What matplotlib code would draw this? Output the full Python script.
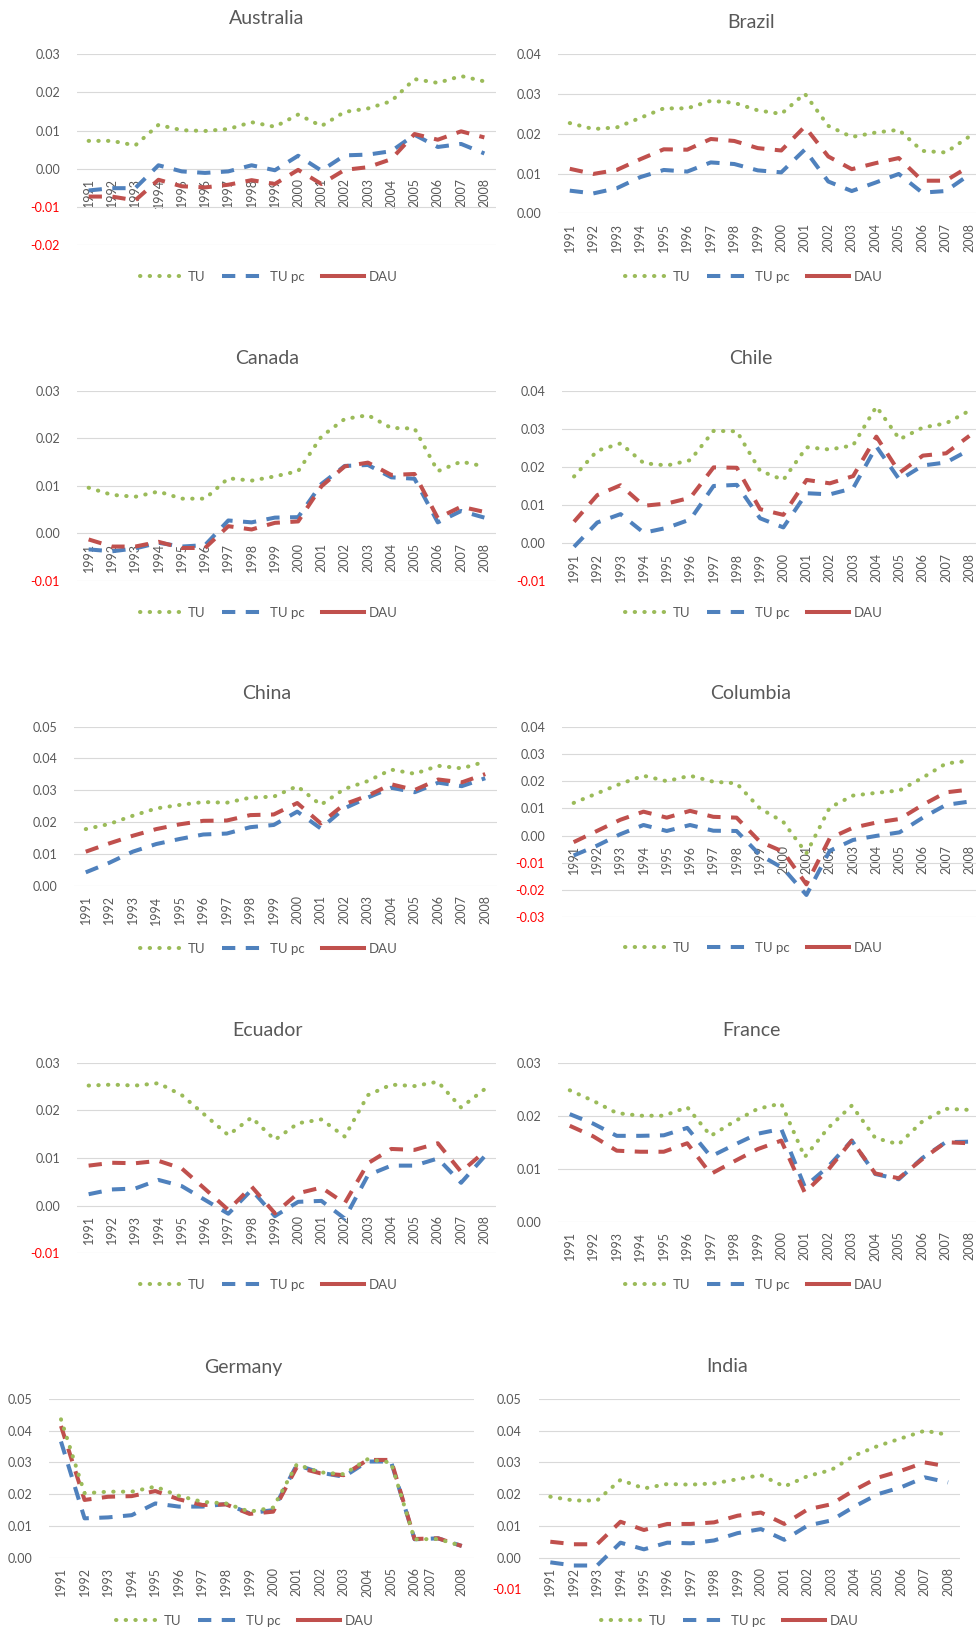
import matplotlib
matplotlib.use("Agg")
import matplotlib.pyplot as plt
from matplotlib.lines import Line2D
from matplotlib.transforms import ScaledTranslation
import numpy as np

plt.rcParams['font.family'] = ['Lato', 'DejaVu Sans']

years = [str(y) for y in range(1991, 2009)]
series_names = ["TU", "TU pc", "DAU"]

# ---------------- data ----------------
au_tu = [0.0073, 0.0073, 0.0061, 0.0115, 0.0101, 0.0099, 0.0104, 0.0122, 0.0110, 0.0142,
         0.0112, 0.0149, 0.0158, 0.0177, 0.0235, 0.0225, 0.0243, 0.0229]
au_tupc = [-0.0057, -0.0051, -0.0051, 0.0009, -0.0007, -0.0011, -0.0007, 0.0009, -0.0004, 0.0034,
           -0.0005, 0.0035, 0.0037, 0.0046, 0.0089, 0.0057, 0.0065, 0.0040]
au_dau = [-0.0073, -0.0073, -0.0083, -0.0029, -0.0046, -0.0049, -0.0042, -0.0030, -0.0040, -0.0003,
          -0.0040, -0.0003, 0.0004, 0.0025, 0.0091, 0.0076, 0.0098, 0.0082]

br_tu = [0.0227, 0.0212, 0.0216, 0.0240, 0.0264, 0.0264, 0.0283, 0.0278, 0.0259, 0.0250,
         0.0301, 0.0220, 0.0192, 0.0203, 0.0210, 0.0157, 0.0153, 0.0193]
br_tupc = [0.0057, 0.0050, 0.0063, 0.0091, 0.0109, 0.0105, 0.0128, 0.0124, 0.0108, 0.0103,
           0.0160, 0.0080, 0.0056, 0.0077, 0.0099, 0.0052, 0.0056, 0.0097]
br_dau = [0.0112, 0.0099, 0.0109, 0.0136, 0.0161, 0.0160, 0.0187, 0.0182, 0.0164, 0.0158,
          0.0218, 0.0143, 0.0111, 0.0126, 0.0139, 0.0082, 0.0082, 0.0118]

ca_tu = [0.0096, 0.0081, 0.0077, 0.0088, 0.0073, 0.0073, 0.0116, 0.0111, 0.0120, 0.0131,
         0.0204, 0.0241, 0.0249, 0.0222, 0.0221, 0.0131, 0.0151, 0.0141]
ca_tupc = [-0.0034, -0.0038, -0.0032, -0.0020, -0.0028, -0.0025, 0.0027, 0.0023, 0.0033, 0.0034,
           0.0104, 0.0142, 0.0144, 0.0118, 0.0115, 0.0023, 0.0047, 0.0033]
ca_dau = [-0.0013, -0.0028, -0.0028, -0.0018, -0.0031, -0.0031, 0.0015, 0.0008, 0.0022, 0.0025,
          0.0099, 0.0141, 0.0149, 0.0123, 0.0125, 0.0032, 0.0056, 0.0045]

cl_tu = [0.0175, 0.0243, 0.0262, 0.0210, 0.0204, 0.0218, 0.0295, 0.0294, 0.0190, 0.0166,
         0.0252, 0.0246, 0.0257, 0.0359, 0.0273, 0.0304, 0.0315, 0.0348]
cl_tupc = [-0.0010, 0.0054, 0.0076, 0.0027, 0.0040, 0.0062, 0.0150, 0.0153, 0.0065, 0.0041,
           0.0131, 0.0128, 0.0144, 0.0254, 0.0166, 0.0204, 0.0212, 0.0245]
cl_dau = [0.0056, 0.0126, 0.0152, 0.0098, 0.0104, 0.0119, 0.0199, 0.0198, 0.0089, 0.0074,
          0.0166, 0.0157, 0.0176, 0.0280, 0.0185, 0.0230, 0.0236, 0.0282]

cn_tu = [0.0178, 0.0194, 0.0220, 0.0243, 0.0254, 0.0263, 0.0261, 0.0277, 0.0280, 0.0313,
         0.0254, 0.0304, 0.0329, 0.0365, 0.0352, 0.0377, 0.0369, 0.0390]
cn_tupc = [0.0042, 0.0072, 0.0107, 0.0131, 0.0147, 0.0161, 0.0164, 0.0184, 0.0191, 0.0233,
           0.0180, 0.0243, 0.0277, 0.0308, 0.0294, 0.0324, 0.0313, 0.0338]
cn_dau = [0.0107, 0.0133, 0.0157, 0.0178, 0.0193, 0.0204, 0.0205, 0.0222, 0.0224, 0.0260,
          0.0196, 0.0256, 0.0283, 0.0319, 0.0301, 0.0334, 0.0325, 0.0351]

co_tu = [0.0120, 0.0155, 0.0190, 0.0220, 0.0200, 0.0220, 0.0198, 0.0192, 0.0100, 0.0051,
         -0.0065, 0.0103, 0.0147, 0.0157, 0.0166, 0.0213, 0.0265, 0.0275]
co_tupc = [-0.0073, -0.0037, 0.0005, 0.0039, 0.0017, 0.0039, 0.0018, 0.0017, -0.0071, -0.0120,
           -0.0218, -0.0056, -0.0016, -0.0001, 0.0012, 0.0066, 0.0113, 0.0125]
co_dau = [-0.0024, 0.0017, 0.0058, 0.0088, 0.0066, 0.0091, 0.0069, 0.0066, -0.0022, -0.0059,
          -0.0179, -0.0010, 0.0029, 0.0048, 0.0061, 0.0113, 0.0159, 0.0169]

ec_tu = [0.0252, 0.0254, 0.0252, 0.0257, 0.0232, 0.0190, 0.0148, 0.0185, 0.0138, 0.0173,
         0.0181, 0.0145, 0.0232, 0.0254, 0.0251, 0.0260, 0.0206, 0.0244]
ec_tupc = [0.0024, 0.0034, 0.0036, 0.0054, 0.0041, 0.0012, -0.0017, 0.0033, -0.0022, 0.0008,
           0.0010, -0.0027, 0.0064, 0.0084, 0.0084, 0.0099, 0.0048, 0.0103]
ec_dau = [0.0084, 0.0090, 0.0089, 0.0094, 0.0078, 0.0035, -0.0009, 0.0040, -0.0016, 0.0026,
          0.0038, 0.0005, 0.0089, 0.0119, 0.0117, 0.0131, 0.0071, 0.0113]

fr_tu = [0.0248, 0.0228, 0.0205, 0.0200, 0.0200, 0.0216, 0.0162, 0.0189, 0.0213, 0.0223,
         0.0122, 0.0177, 0.0219, 0.0158, 0.0146, 0.0189, 0.0213, 0.0211]
fr_tupc = [0.0203, 0.0185, 0.0162, 0.0162, 0.0163, 0.0177, 0.0123, 0.0145, 0.0166, 0.0175,
           0.0066, 0.0104, 0.0153, 0.0090, 0.0080, 0.0120, 0.0150, 0.0151]
fr_dau = [0.0181, 0.0161, 0.0134, 0.0132, 0.0132, 0.0148, 0.0090, 0.0114, 0.0137, 0.0153,
          0.0055, 0.0098, 0.0153, 0.0091, 0.0082, 0.0118, 0.0150, 0.0148]

de_tu = [0.0436, 0.0203, 0.0208, 0.0208, 0.0224, 0.0195, 0.0176, 0.0171, 0.0145, 0.0158,
         0.0294, 0.0269, 0.0263, 0.0310, 0.0300, 0.0058, 0.0059, 0.0037]
de_tupc = [0.0366, 0.0124, 0.0127, 0.0134, 0.0171, 0.0161, 0.0161, 0.0169, 0.0140, 0.0150,
           0.0292, 0.0268, 0.0255, 0.0303, 0.0303, 0.0058, 0.0061, 0.0037]
de_dau = [0.0415, 0.0182, 0.0192, 0.0194, 0.0210, 0.0184, 0.0166, 0.0168, 0.0138, 0.0145,
          0.0285, 0.0266, 0.0260, 0.0308, 0.0308, 0.0059, 0.0061, 0.0037]

in_tu = [0.0192, 0.0180, 0.0180, 0.0245, 0.0218, 0.0232, 0.0230, 0.0234, 0.0247, 0.0260,
         0.0224, 0.0257, 0.0276, 0.0322, 0.0352, 0.0376, 0.0400, 0.0387]
in_tupc = [-0.0015, -0.0025, -0.0025, 0.0047, 0.0026, 0.0047, 0.0045, 0.0054, 0.0077, 0.0090,
           0.0056, 0.0101, 0.0117, 0.0161, 0.0200, 0.0222, 0.0253, 0.0237]
in_dau = [0.0050, 0.0042, 0.0042, 0.0113, 0.0087, 0.0106, 0.0106, 0.0111, 0.0132, 0.0142,
          0.0106, 0.0152, 0.0168, 0.0213, 0.0252, 0.0274, 0.0300, 0.0287]

countries = ["Australia", "Brazil", "Canada", "Chile", "China",
             "Columbia", "Ecuador", "France", "Germany", "India"]
tu_data = [au_tu, br_tu, ca_tu, cl_tu, cn_tu, co_tu, ec_tu, fr_tu, de_tu, in_tu]
tupc_data = [au_tupc, br_tupc, ca_tupc, cl_tupc, cn_tupc, co_tupc, ec_tupc, fr_tupc, de_tupc, in_tupc]
dau_data = [au_dau, br_dau, ca_dau, cl_dau, cn_dau, co_dau, ec_dau, fr_dau, de_dau, in_dau]
y_ranges = [(-0.02, 0.03), (0.00, 0.04), (-0.01, 0.03), (-0.01, 0.04), (0.00, 0.05),
            (-0.03, 0.04), (-0.01, 0.03), (0.00, 0.03), (0.00, 0.05), (-0.01, 0.05)]

# ---------------- layout (pixels, figure 976 x 1634) ----------------
W, H = 976, 1634
# (left, top, right, bottom) of plot area
rects = [(77, 54.3, 496, 245), (558, 54.3, 981, 213.3),
         (77, 391, 496, 580.7), (562.4, 391, 981, 581),
         (74, 726.7, 497, 885.7), (562, 726.7, 981, 917.3),
         (77, 1062.7, 496, 1253.3), (558, 1062.7, 981, 1221.7),
         (49.2, 1399, 473.5, 1557.7), (538.6, 1399, 959.8, 1589.3)]
title_pos = [(267, 19), (751, 22), (267, 358), (751, 358), (267, 694),
             (751, 694), (267, 1030), (751, 1031), (243, 1367), (727, 1366)]
legend_pos = [(269, 277), (754, 277), (269, 613), (754, 613), (269, 949),
              (754, 948), (269, 1285), (754, 1285), (245, 1621), (730, 1621)]

C_TU = "#9BBB59"
C_PC = "#4F81BD"
C_DAU = "#C0504D"
GRAY = "#595959"
LW = 2.9
DOT = (0, (0.1, 2.3))
DASH = (0, (3.3, 2.6))

fig = plt.figure(figsize=(W / 100, H / 100), dpi=100)

for i, name in enumerate(countries):
    l, t, r, b = rects[i]
    ax = fig.add_axes([l / W, 1 - b / H, (r - l) / W, (b - t) / H])
    # category axis crosses at y = 0 (set before ticks: it resets them)
    for s in ax.spines.values():
        s.set_color("none")
    ax.spines["bottom"].set_position(("data", 0))

    x = np.arange(len(years))
    ax.plot(x, tupc_data[i], color=C_PC, lw=LW, linestyle=DASH, zorder=3)
    ax.plot(x, dau_data[i], color=C_DAU, lw=LW, linestyle=DASH, zorder=4)
    ax.plot(x, tu_data[i], color=C_TU, lw=LW, linestyle=DOT,
            dash_capstyle="round", zorder=5)

    ymin, ymax = y_ranges[i]
    yt = np.round(np.arange(ymin, ymax + 1e-9, 0.01), 2)
    ax.set_ylim(ymin, ymax)
    ax.set_xlim(-0.5, len(years) - 0.5)
    ax.tick_params(axis="both", length=0, labelsize=9, labelcolor=GRAY)
    ax.tick_params(axis="y", pad=12.2)
    ax.tick_params(axis="x", pad=7, labelrotation=90)
    ax.set_yticks(yt)
    ax.set_yticklabels([f"{v:.2f}" for v in yt])
    ax.set_xticks(x)
    ax.set_xticklabels(years, rotation=90)
    for lab, v in zip(ax.get_yticklabels(), yt):
        lab.set_color("#FF0000" if v < 0 else GRAY)
    ax.grid(axis="y", color="#D9D9D9", lw=0.8, zorder=0)
    ax.set_axisbelow(True)
    ax.patch.set_alpha(0)

    if name == "Germany":
        lab07 = ax.get_xticklabels()[16]
        lab07.set_transform(lab07.get_transform() +
                            ScaledTranslation(-8 / 100, 0, fig.dpi_scale_trans))

    tx, ty = title_pos[i]
    fig.text(tx / W, 1 - ty / H, name, ha="center", va="center",
             fontsize=14, color=GRAY)

    handles = [Line2D([], [], color=C_TU, lw=LW, linestyle=DOT, dash_capstyle="round"),
               Line2D([], [], color=C_PC, lw=LW, linestyle=DASH),
               Line2D([], [], color=C_DAU, lw=LW, linestyle="-")]
    lx, ly = legend_pos[i]
    fig.legend(handles, series_names, loc="center",
               bbox_to_anchor=(lx / W, 1 - ly / H), ncol=3, frameon=False,
               fontsize=9.5, handlelength=3.2, handletextpad=0.4,
               columnspacing=1.3, labelcolor=GRAY, borderaxespad=0, borderpad=0)

fig.savefig("out.png", dpi=100)
